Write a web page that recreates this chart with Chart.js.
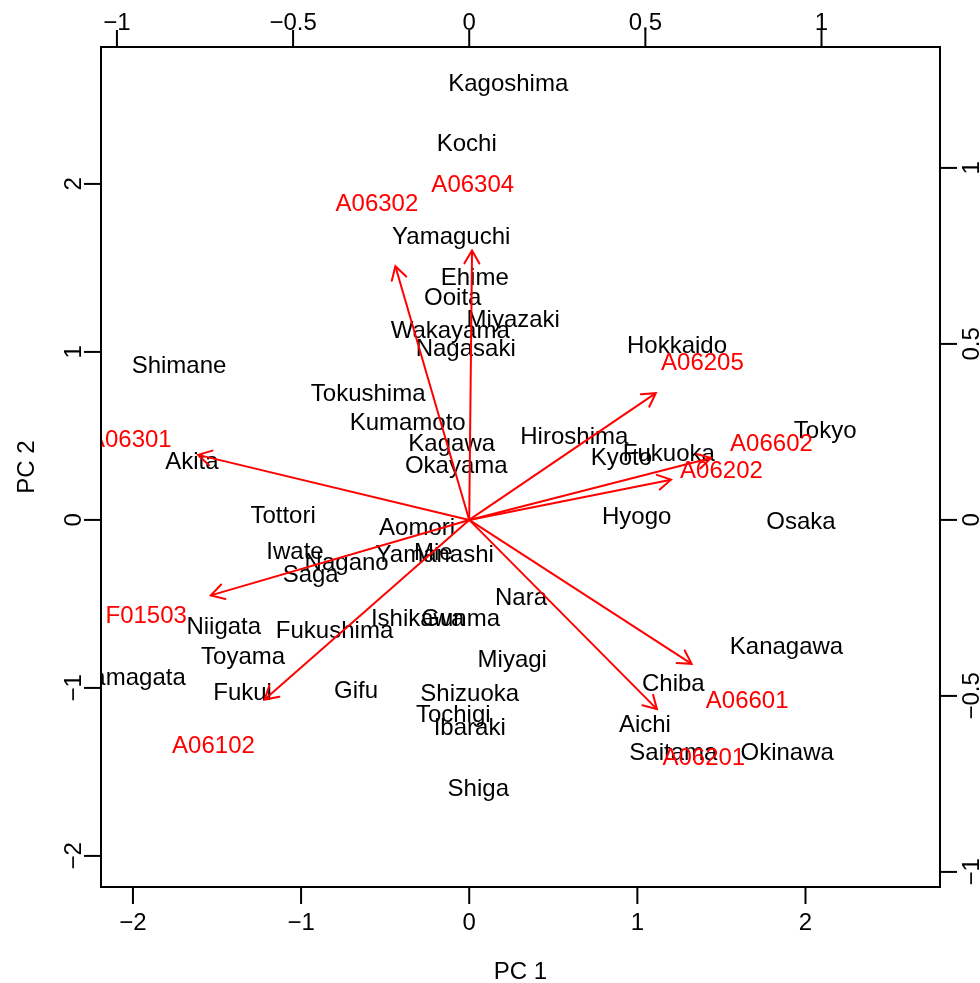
<!DOCTYPE html>
<html>
<head>
<meta charset="utf-8">
<script src="https://cdn.jsdelivr.net/npm/chart.js@4.4.1/dist/chart.umd.min.js"></script>
<style>
  html, body { margin: 0; padding: 0; background: #ffffff; }
  canvas { display: block; }
</style>
</head>
<body>
<canvas id="biplot" width="980" height="983"></canvas>
<script>
// Prefecture scores on the first two principal components
const prefectures = ["Hokkaido","Aomori","Iwate","Miyagi","Akita","Yamagata","Fukushima","Ibaraki","Tochigi","Gunma",
  "Saitama","Chiba","Tokyo","Kanagawa","Niigata","Toyama","Ishikawa","Fukui","Yamanashi","Nagano",
  "Gifu","Shizuoka","Aichi","Mie","Shiga","Kyoto","Osaka","Hyogo","Nara","Wakayama",
  "Tottori","Shimane","Okayama","Hiroshima","Yamaguchi","Tokushima","Kagawa","Ehime","Kochi","Fukuoka",
  "Saga","Nagasaki","Kumamoto","Ooita","Miyazaki","Kagoshima","Okinawa"];
const pc1 = [1.236,-0.310,-1.036,0.256,-1.649,-2.006,-0.801,0.003,-0.095,-0.051,
  1.214,1.214,2.117,1.887,-1.460,-1.345,-0.307,-1.348,-0.205,-0.729,
  -0.673,0.003,1.045,-0.214,0.054,0.905,1.973,0.996,0.308,-0.113,
  -1.107,-1.726,-0.077,0.625,-0.107,-0.601,-0.104,0.033,-0.015,1.187,
  -0.943,-0.021,-0.366,-0.098,0.262,0.232,1.891];
const pc2 = [1.042,-0.039,-0.182,-0.827,0.357,-0.929,-0.649,-1.232,-1.149,-0.583,
  -1.378,-0.970,0.536,-0.747,-0.625,-0.804,-0.583,-1.018,-0.202,-0.244,
  -1.009,-1.024,-1.214,-0.185,-1.592,0.378,0.000,0.024,-0.458,1.137,
  0.030,0.923,0.330,0.503,1.696,0.762,0.464,1.452,2.250,0.399,
  -0.321,1.024,0.586,1.333,1.202,2.607,-1.375];

// Variable loadings (label positions); arrows are drawn to 0.8 of each loading
const variables = ["A06304","A06302","A06301","A06205","A06602","A06202","F01503","A06102","A06601","A06201"];
const loadX = [0.010,-0.262,-0.962,0.662,0.858,0.716,-0.917,-0.726,0.789,0.666];
const loadY = [0.957,0.901,0.231,0.450,0.220,0.143,-0.268,-0.638,-0.511,-0.672];

// Tick positions for the four axes
const bottomTicks = [-2,-1,0,1,2];
const leftTicks = [-2,-1,0,1,2];
const topTicks = [-1,-0.5,0,0.5,1];
const rightTicks = [-1,-0.5,0,0.5,1];

const ARROW_SCALE = 0.8;
const FONT = '24px "Liberation Sans", Arial, Helvetica, sans-serif';
const CAP_HALF = 8.6;
const RED = '#ff0000';

const fmt = v => String(v).replace('-', '\u2212');

const scoreData = pc1.map((x, i) => ({ x: x, y: pc2[i] }));

const arrowSets = variables.map((name, i) => ({
  label: name,
  data: [{ x: 0, y: 0 }, { x: loadX[i] * ARROW_SCALE, y: loadY[i] * ARROW_SCALE }],
  showLine: true,
  borderColor: RED,
  borderWidth: 2,
  pointRadius: 0,
  xAxisID: 'x2',
  yAxisID: 'y2'
}));

const biplotPlugin = {
  id: 'biplotPlugin',
  beforeDatasetsDraw(chart) {
    const ctx = chart.ctx;
    const a = chart.chartArea;
    const sx = chart.scales.x, sy = chart.scales.y;
    const sx2 = chart.scales.x2, sy2 = chart.scales.y2;
    ctx.save();
    ctx.beginPath();
    ctx.rect(a.left, a.top, a.right - a.left, a.bottom - a.top);
    ctx.clip();
    ctx.font = FONT;
    ctx.textAlign = 'center';
    ctx.textBaseline = 'alphabetic';
    // observation names
    ctx.fillStyle = '#000000';
    prefectures.forEach((name, i) => {
      ctx.fillText(name, sx.getPixelForValue(pc1[i]), sy.getPixelForValue(pc2[i]) + CAP_HALF);
    });
    // variable names
    ctx.fillStyle = RED;
    variables.forEach((name, i) => {
      ctx.fillText(name, sx2.getPixelForValue(loadX[i]), sy2.getPixelForValue(loadY[i]) + CAP_HALF);
    });
    ctx.restore();
  },
  afterDatasetsDraw(chart) {
    const ctx = chart.ctx;
    const a = chart.chartArea;
    // arrow heads
    ctx.save();
    ctx.beginPath();
    ctx.rect(a.left, a.top, a.right - a.left, a.bottom - a.top);
    ctx.clip();
    ctx.strokeStyle = RED;
    ctx.lineWidth = 2;
    ctx.lineCap = 'round';
    const headLen = 15, headAng = Math.PI / 6;
    chart.data.datasets.forEach((ds, di) => {
      if (ds.xAxisID !== 'x2') return;
      const pts = chart.getDatasetMeta(di).data;
      const p0 = pts[0], p1 = pts[1];
      const ang = Math.atan2(p1.y - p0.y, p1.x - p0.x);
      ctx.beginPath();
      ctx.moveTo(p1.x - headLen * Math.cos(ang - headAng), p1.y - headLen * Math.sin(ang - headAng));
      ctx.lineTo(p1.x, p1.y);
      ctx.lineTo(p1.x - headLen * Math.cos(ang + headAng), p1.y - headLen * Math.sin(ang + headAng));
      ctx.stroke();
    });
    ctx.restore();
  },
  afterDraw(chart) {
    const ctx = chart.ctx;
    const a = chart.chartArea;
    const sx = chart.scales.x, sy = chart.scales.y;
    const sx2 = chart.scales.x2, sy2 = chart.scales.y2;
    const tick = 17;
    ctx.save();
    ctx.strokeStyle = '#000000';
    ctx.fillStyle = '#000000';
    ctx.lineWidth = 2;
    ctx.lineCap = 'butt';
    // frame
    ctx.strokeRect(a.left, a.top, a.right - a.left, a.bottom - a.top);
    ctx.font = FONT;
    ctx.textAlign = 'center';
    ctx.textBaseline = 'alphabetic';
    // bottom axis
    bottomTicks.forEach(v => {
      const px = sx.getPixelForValue(v);
      ctx.beginPath(); ctx.moveTo(px, a.bottom); ctx.lineTo(px, a.bottom + tick); ctx.stroke();
      ctx.fillText(fmt(v), px, a.bottom + 34 + CAP_HALF);
    });
    // top axis
    topTicks.forEach(v => {
      const px = sx2.getPixelForValue(v);
      ctx.beginPath(); ctx.moveTo(px, a.top); ctx.lineTo(px, a.top - tick); ctx.stroke();
      ctx.fillText(fmt(v), px, a.top - 26 + CAP_HALF);
    });
    // left axis
    leftTicks.forEach(v => {
      const py = sy.getPixelForValue(v);
      ctx.beginPath(); ctx.moveTo(a.left, py); ctx.lineTo(a.left - tick, py); ctx.stroke();
      ctx.save();
      ctx.translate(a.left - 29 + CAP_HALF, py);
      ctx.rotate(-Math.PI / 2);
      ctx.fillText(fmt(v), 0, 0);
      ctx.restore();
    });
    // right axis
    rightTicks.forEach(v => {
      const py = sy2.getPixelForValue(v);
      ctx.beginPath(); ctx.moveTo(a.right, py); ctx.lineTo(a.right + tick, py); ctx.stroke();
      ctx.save();
      ctx.translate(a.right + 30 + CAP_HALF, py);
      ctx.rotate(-Math.PI / 2);
      ctx.fillText(fmt(v), 0, 0);
      ctx.restore();
    });
    // axis titles
    ctx.fillText('PC 1', (a.left + a.right) / 2, a.bottom + 83 + CAP_HALF);
    ctx.save();
    ctx.translate(25 + CAP_HALF, (a.top + a.bottom) / 2);
    ctx.rotate(-Math.PI / 2);
    ctx.fillText('PC 2', 0, 0);
    ctx.restore();
    ctx.restore();
  }
};

const ratio = 168 / 352;

new Chart(document.getElementById('biplot'), {
  type: 'scatter',
  data: {
    datasets: [
      { label: 'scores', data: scoreData, pointRadius: 0, pointHoverRadius: 0, xAxisID: 'x', yAxisID: 'y' },
      ...arrowSets
    ]
  },
  options: {
    responsive: false,
    animation: false,
    events: [],
    layout: { padding: { left: 101, right: 40, top: 47, bottom: 96 } },
    plugins: { legend: { display: false }, tooltip: { enabled: false } },
    scales: {
      x: { type: 'linear', display: false, min: -2.19, max: 2.80 },
      y: { type: 'linear', display: false, min: -2.185, max: 2.815 },
      x2: { type: 'linear', display: false, min: -2.19 * ratio, max: 2.80 * ratio },
      y2: { type: 'linear', display: false, min: -2.185 * ratio, max: 2.815 * ratio }
    }
  },
  plugins: [biplotPlugin]
});
</script>
</body>
</html>
